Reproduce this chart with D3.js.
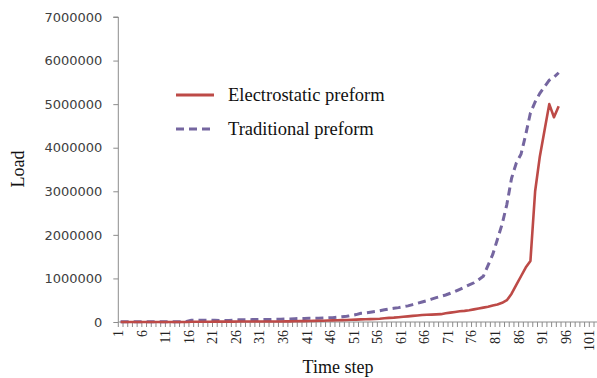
<!DOCTYPE html>
<html><head><meta charset="utf-8">
<script src="https://cdn.jsdelivr.net/npm/d3@7"></script>
<style>html,body{margin:0;padding:0;background:#fff;overflow:hidden}</style>
</head><body>
<svg id="c" width="597" height="378"></svg>
<script>
const categories = d3.range(1, 103);
const tickLabels = d3.range(1, 102, 5);
const yTicks = [0,1000000,2000000,3000000,4000000,5000000,6000000,7000000];
const electrostatic = [
 0,0,0,0,0,0,0,0,0,0,
 0,0,0,0,0,5000,5000,5000,5000,5000,
 8000,8000,8000,8000,8000,10000,10000,10000,10000,10000,
 12000,12000,12000,12000,12000,15000,15000,18000,20000,20000,
 22000,25000,28000,30000,35000,38000,40000,42000,45000,50000,
 55000,60000,62000,65000,70000,75000,85000,95000,100000,110000,
 120000,130000,140000,150000,160000,165000,170000,175000,180000,200000,
 215000,230000,245000,255000,270000,290000,310000,330000,350000,380000,
 400000,440000,500000,650000,850000,1050000,1250000,1400000,3000000,3800000,
 4400000,5000000,4700000,4950000
];
const traditional = [
 5000,5000,5000,5000,5000,5000,5000,5000,5000,5000,
 8000,8000,8000,8000,10000,40000,40000,40000,40000,40000,
 40000,35000,35000,35000,40000,50000,50000,50000,55000,55000,
 60000,60000,60000,65000,65000,70000,70000,75000,80000,80000,
 85000,85000,85000,90000,95000,100000,110000,120000,130000,150000,
 170000,200000,210000,225000,240000,260000,280000,300000,315000,330000,
 350000,370000,400000,430000,460000,490000,525000,560000,590000,620000,
 660000,700000,750000,800000,850000,900000,970000,1050000,1300000,1550000,
 1900000,2250000,2700000,3300000,3650000,3850000,4300000,4800000,5050000,5250000,
 5400000,5550000,5620000,5720000
];

const svg = d3.select("#c");
const x0 = 118.3, bw = 4.71;
const x = d3.scaleBand().domain(categories).range([x0, x0 + categories.length * bw]).paddingInner(0).paddingOuter(0);
const y = d3.scaleLinear().domain([0, 7000000]).range([322, 17]);
const axisColor = "#8c8c8c";
const serif = "Liberation Serif, Times New Roman, serif";

// Y axis
const ya = svg.append("g").attr("transform", `translate(${x0},0)`)
  .call(d3.axisLeft(y).tickValues(yTicks).tickSize(5).tickFormat(d3.format("d")).tickPadding(11));
ya.select(".domain").attr("stroke", axisColor).attr("d", `M-5,17H0V322`);
ya.selectAll(".tick line").attr("stroke", axisColor);
ya.selectAll(".tick text").attr("font-family", "DejaVu Sans, Verdana, sans-serif").attr("font-size", 13).attr("fill", "#404040");

// X axis
const xa = svg.append("g").attr("transform", `translate(0,322)`);
xa.append("line").attr("x1", x0).attr("x2", 597).attr("y1", 0).attr("y2", 0).attr("stroke", axisColor);
xa.selectAll("line.tk").data(d3.range(0, categories.length + 1)).enter().append("line")
  .attr("class", "tk")
  .attr("x1", i => x0 + i * x.bandwidth()).attr("x2", i => x0 + i * x.bandwidth())
  .attr("y1", 0).attr("y2", 5).attr("stroke", axisColor);
xa.selectAll("text").data(tickLabels).enter().append("text")
  .attr("transform", d => `translate(${x(d) + x.bandwidth()/2 + 2.5},8) rotate(-90)`)
  .attr("text-anchor", "end")
  .attr("font-family", serif).attr("font-size", 14).attr("fill", "#222")
  .text(d => d);

// Lines
const line = d3.line().x((d, i) => x(categories[i]) + x.bandwidth()/2).y(d => y(d));
svg.append("path").datum(traditional).attr("d", line).attr("fill", "none")
  .attr("stroke", "#7566a0").attr("stroke-width", 3).attr("stroke-dasharray", "8,5");
svg.append("path").datum(electrostatic).attr("d", line).attr("fill", "none")
  .attr("stroke", "#bd4a47").attr("stroke-width", 2.6).attr("stroke-linejoin", "round");

// Titles
svg.append("text").attr("x", 338).attr("y", 373).attr("text-anchor", "middle")
  .attr("font-family", serif).attr("font-size", 18).attr("fill", "#111").text("Time step");
svg.append("text").attr("transform", "translate(24,169) rotate(-90)").attr("text-anchor", "middle")
  .attr("font-family", serif).attr("font-size", 18).attr("fill", "#111").text("Load");

// Legend
const lg = svg.append("g");
lg.append("line").attr("x1", 176).attr("x2", 214).attr("y1", 95).attr("y2", 95).attr("stroke", "#bd4a47").attr("stroke-width", 3);
lg.append("line").attr("x1", 176).attr("x2", 214).attr("y1", 129).attr("y2", 129).attr("stroke", "#7566a0").attr("stroke-width", 3).attr("stroke-dasharray", "8,5");
lg.append("text").attr("x", 228).attr("y", 101).attr("font-family", serif).attr("font-size", 18.5).attr("fill", "#111").text("Electrostatic preform");
lg.append("text").attr("x", 228).attr("y", 135).attr("font-family", serif).attr("font-size", 18.5).attr("fill", "#111").text("Traditional preform");
</script>
</body></html>
